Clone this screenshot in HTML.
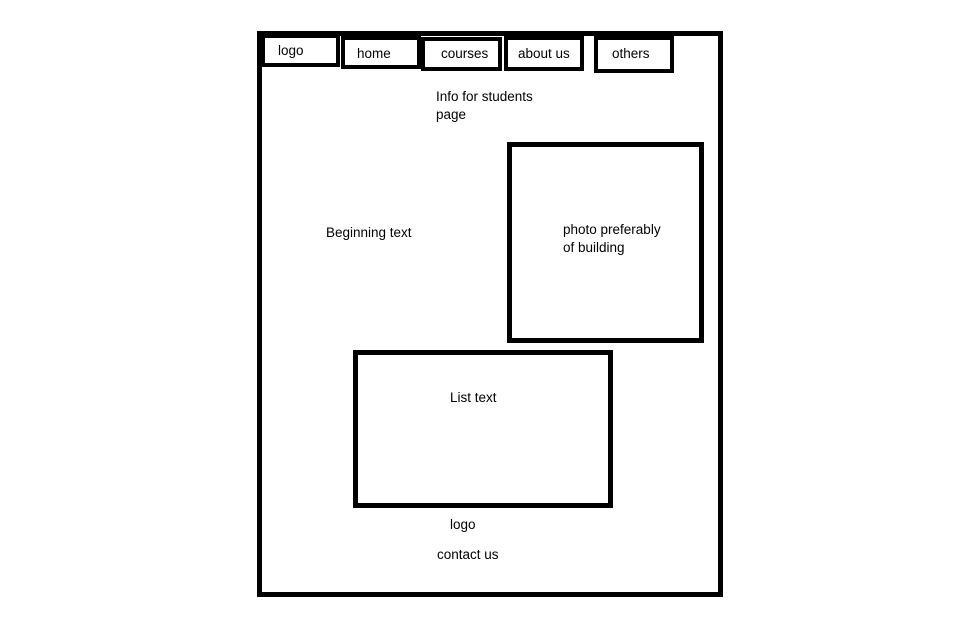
<!DOCTYPE html>
<html><head><style>
body{margin:0;width:973px;height:634px;background:#fff;position:relative;overflow:hidden;font-family:"Liberation Sans",sans-serif;font-size:13.5px;color:#000}
.b{position:absolute;border:5px solid #000;box-sizing:border-box;background:#fff}
.t{position:absolute;white-space:nowrap;line-height:18px}
</style></head><body>
<div class="b" style="left:257px;top:31px;width:466px;height:566px"></div>
<div class="b" style="left:261px;top:34px;width:79px;height:33px;border-width:4px"></div>
<div class="b" style="left:341px;top:36px;width:80px;height:33px;border-width:4px"></div>
<div class="b" style="left:421px;top:37px;width:81px;height:34px;border-width:4px"></div>
<div class="b" style="left:504px;top:36px;width:80px;height:35px;border-width:4px"></div>
<div class="b" style="left:594px;top:36px;width:80px;height:37px;border-width:4px"></div>
<div class="t" style="left:278px;top:42px">logo</div>
<div class="t" style="left:357px;top:45px">home</div>
<div class="t" style="left:441px;top:45px">courses</div>
<div class="t" style="left:518px;top:45px">about us</div>
<div class="t" style="left:612px;top:45px">others</div>
<div class="t" style="left:436px;top:88px">Info for students<br>page</div>
<div class="t" style="left:326px;top:224px">Beginning text</div>
<div class="b" style="left:507px;top:142px;width:197px;height:201px"></div>
<div class="t" style="left:563px;top:221px">photo preferably<br>of building</div>
<div class="b" style="left:353px;top:350px;width:260px;height:158px"></div>
<div class="t" style="left:450px;top:389px">List text</div>
<div class="t" style="left:450px;top:516px">logo</div>
<div class="t" style="left:437px;top:546px">contact us</div>
</body></html>
